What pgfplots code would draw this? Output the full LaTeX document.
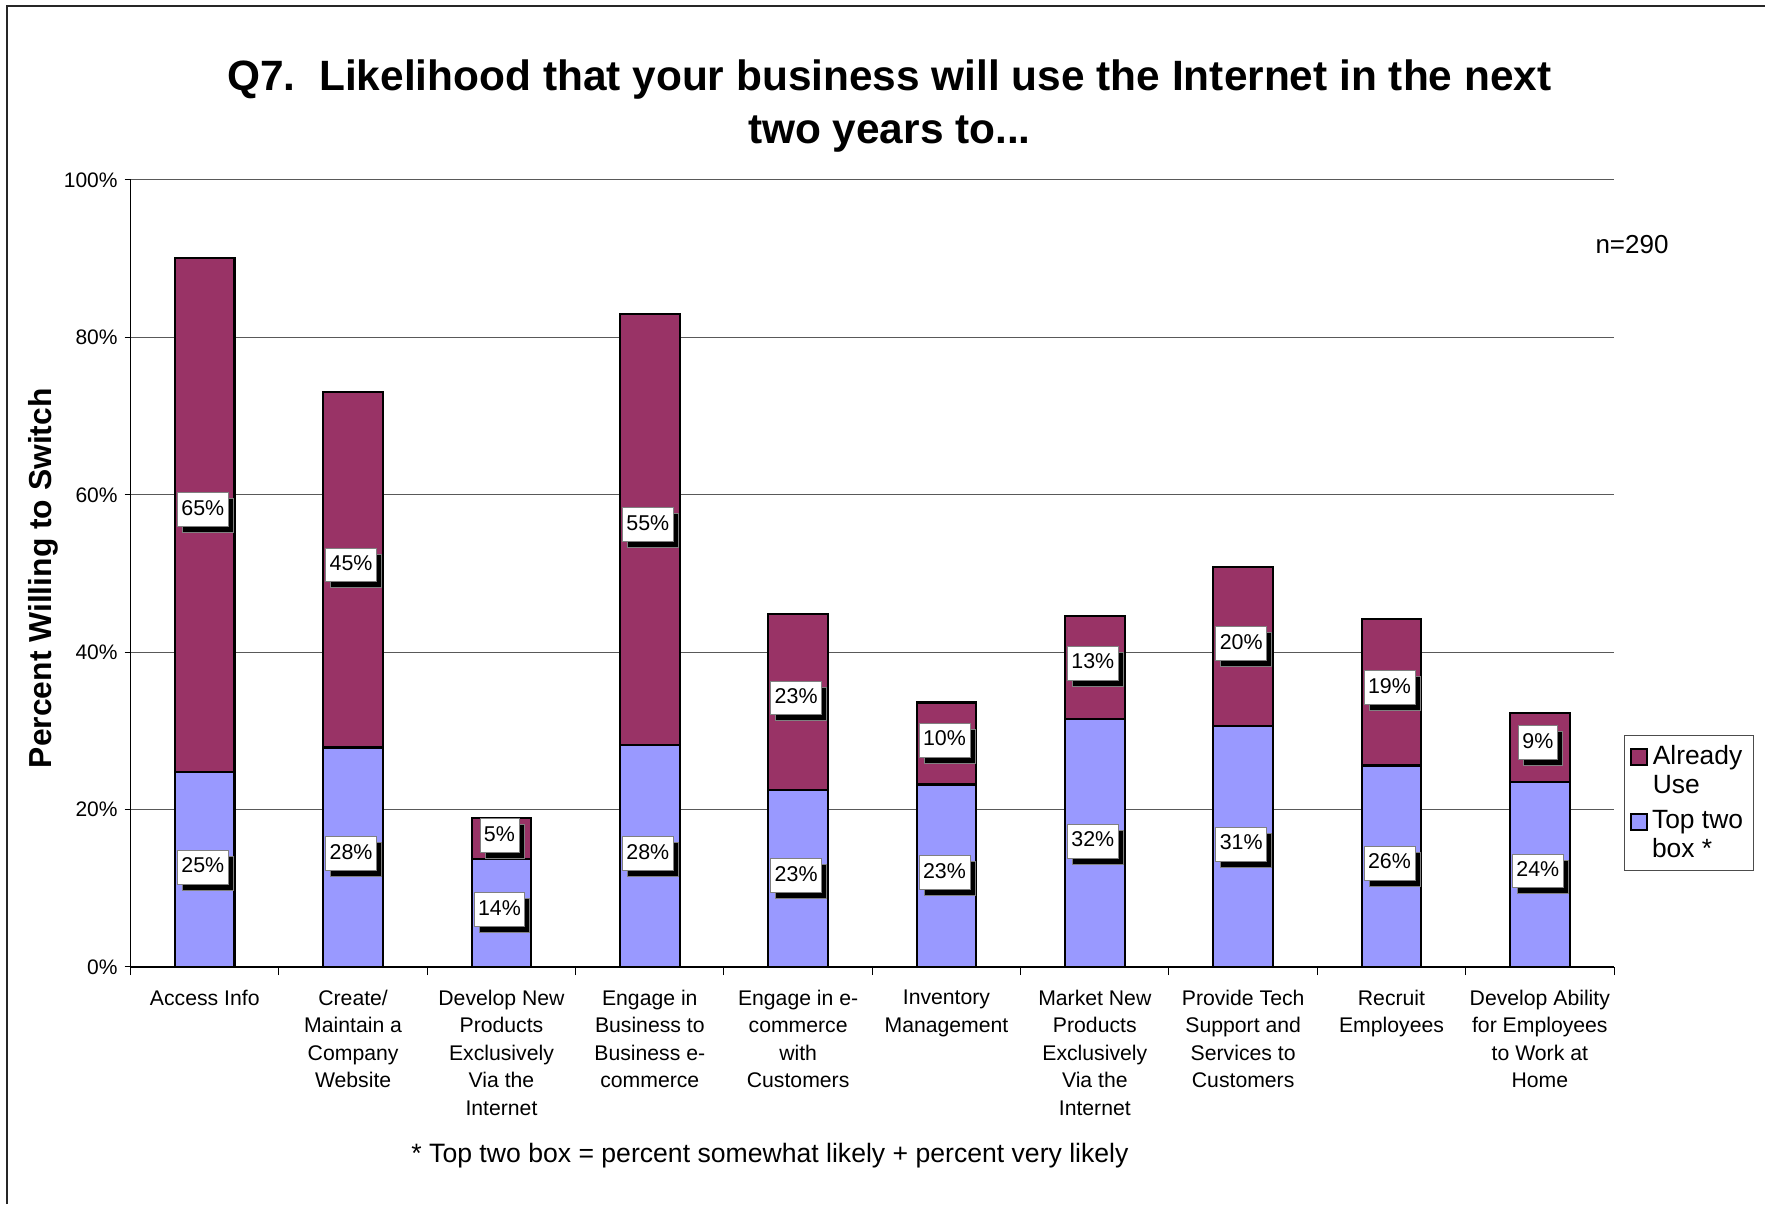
\documentclass[border=0pt]{standalone}
\usepackage{pgfplots}
\pgfplotsset{compat=1.18}
\usepackage{pgfplotstable}
\usepackage{fontspec}
\setmainfont{Liberation Sans}
\usetikzlibrary{shadows}
\definecolor{already}{RGB}{153,51,102}
\definecolor{toptwo}{RGB}{153,153,255}

\pgfplotstableread{
x bottom total
0 24.8 90.1
1 27.9 73.1
2 13.7 18.9
3 28.2 83.0
4 22.5 44.9
5 23.2 33.6
6 31.5 44.6
7 30.6 50.8
8 25.6 44.2
9 23.5 32.3
}\bars

\pgfplotstableread{
x y label
0 12.7 25
1 14.4 28
2 7.3 14
3 14.4 28
4 11.6 23
5 12.0 23
6 16.0 32
7 15.6 31
8 13.2 26
9 12.2 24
0 58.1 65
1 51.1 45
2 16.7 5
3 56.2 55
4 34.2 23
5 28.8 10
6 38.6 13
7 41.1 20
8 35.5 19
9 28.5 9
}\labels

\begin{document}
\begin{tikzpicture}
\useasboundingbox (0,0) rectangle (882.5pt,602pt);
\draw[line width=0.6pt, black!85] (3.5pt,0pt) -- (3.5pt,599pt) -- (882.5pt,599pt);
\begin{axis}[
  at={(65.3pt,118.5pt)}, anchor=south west,
  scale only axis, width=741.7pt, height=393.5pt,
  xmin=-0.5, xmax=9.5, ymin=0, ymax=100,
  axis x line*=bottom, axis y line*=left,
  axis line style={black, line width=0.6pt},
  ytick={0,20,40,60,80,100},
  yticklabels={0\%,20\%,40\%,60\%,80\%,100\%},
  ymajorgrids, grid style={black!65, line width=0.5pt},
  xtick={0,...,9},
  minor xtick={-0.5,0.5,...,9.5},
  xticklabels={Access Info, {Create/\\Maintain a\\Company\\Website}, {Develop New\\Products\\Exclusively\\Via the\\Internet}, {Engage in\\Business to\\Business e-\\commerce}, {Engage in e-\\commerce\\with\\Customers}, {Inventory\\Management}, {Market New\\Products\\Exclusively\\Via the\\Internet}, {Provide Tech\\Support and\\Services to\\Customers}, {Recruit\\Employees}, {Develop Ability\\for Employees\\to Work at\\Home}},
  tick align=outside,
  major tick length=3pt, minor tick length=4pt,
  tick style={black, line width=0.5pt},
  major x tick style={draw=none},
  xticklabel style={align=center, font=\fontsize{10.6}{13.7}\selectfont, anchor=north, yshift=-5pt},
  yticklabel style={font=\fontsize{10.5}{12}\selectfont},
  ylabel={Percent Willing to Switch},
  every axis y label/.style={at={(axis description cs:-0.0587,0.494)}, rotate=90, anchor=center, font=\fontsize{15.9}{18}\selectfont\bfseries},
  legend style={at={(1.0067,0.2948)}, anchor=north west, draw=black!70, line width=0.5pt, font=\fontsize{13.2}{14.5}\selectfont, cells={align=left}, inner xsep=3pt, inner ysep=3pt, row sep=3pt},
  legend image code/.code={\draw[#1,/tikz/.cd, line width=0.8pt, draw=black] (0pt,3pt) rectangle (8pt,11pt);},
]
\addplot[ybar, bar width=29.8pt, bar shift=0pt, fill=already, draw=black, line width=1.1pt] table[x=x,y=total]{\bars};
\addlegendentry{Already\\Use}
\addplot[ybar, bar width=29.8pt, bar shift=0pt, fill=toptwo, draw=black, line width=1.1pt] table[x=x,y=bottom]{\bars};
\addlegendentry{Top two\\box *}
\addplot[only marks, mark=none, forget plot, point meta=explicit symbolic,
  nodes near coords={\pgfplotspointmeta\%},
  nodes near coords style={anchor=center, font=\fontsize{10.7}{12}\selectfont, fill=white, draw=black!50, line width=0.4pt, inner xsep=2pt, inner ysep=3.5pt, text height=7.7pt, text depth=2.2pt, xshift=-1pt, drop shadow={shadow xshift=2.5pt, shadow yshift=-3pt, fill=black, opacity=1}}]
  table[x=x,y=y,meta=label]{\labels};
\end{axis}
\node[font=\fontsize{21.2}{26.5}\selectfont\bfseries, align=center] at (444.7pt,548.8pt) {Q7.\ \ Likelihood that your business will use the Internet in the next\\two years to...};
\node[font=\fontsize{13}{15}\selectfont] at (816pt,479.5pt) {n=290};
\node[font=\fontsize{13.3}{15}\selectfont] at (385pt,24pt) {* Top two box = percent somewhat likely + percent very likely};
\end{tikzpicture}
\end{document}
